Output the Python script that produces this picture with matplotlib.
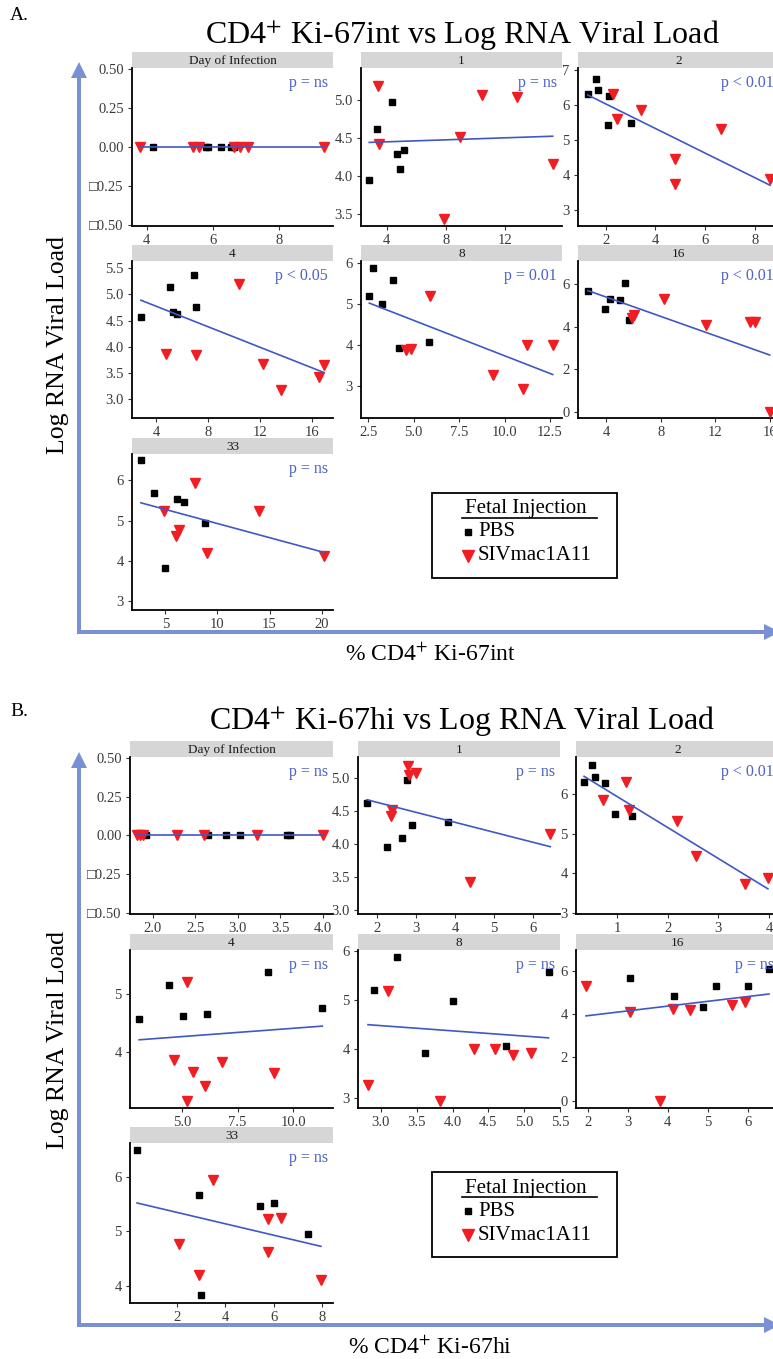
import numpy as np
import matplotlib
matplotlib.use("Agg")
import matplotlib.pyplot as plt
from matplotlib.patches import FancyArrow, Rectangle

plt.rcParams['font.family'] = ['Liberation Serif', 'DejaVu Serif']
plt.rcParams['mathtext.fontset'] = 'stix'

# viral load (log RNA) per day, PBS and SIVmac1A11 animals
VL_PBS_D0 = [0, 0, 0, 0, 0, 0]
VL_SIV_D0 = [0, 0, 0, 0, 0, 0, 0]
VL_PBS_D1 = [3.95, 4.62, 4.97, 4.29, 4.34, 4.09]
VL_SIV_D1 = [5.18, 4.42, 4.51, 5.07, 5.04, 4.15, 3.43]
VL_PBS_D2 = [6.31, 6.74, 6.42, 6.27, 5.44, 5.50]
VL_SIV_D2 = [6.31, 5.60, 5.86, 4.45, 3.73, 5.31, 3.89]
VL_PBS_D4 = [4.57, 5.15, 4.66, 4.63, 5.37, 4.76]
VL_SIV_D4 = [3.87, 3.84, 5.21, 3.67, 3.17, 3.43, 3.65]
VL_PBS_D8 = [5.20, 5.88, 4.99, 5.58, 3.92, 4.07]
VL_SIV_D8 = [3.88, 3.91, 5.18, 3.27, 2.93, 3.99, 3.99]
VL_PBS_D16 = [5.67, 4.83, 5.31, 5.27, 6.06, 4.31]
VL_SIV_D16 = [4.40, 4.55, 5.31, 4.08, 4.22, 4.20, 0.0]
VL_PBS_D33 = [6.50, 5.68, 5.53, 5.46, 4.95, 3.82]
VL_SIV_D33 = [5.23, 4.62, 4.77, 5.94, 4.19, 5.25, 4.11]

# % CD4+ Ki-67int
INT_PBS_D0 = [4.18, 5.79, 5.85, 6.26, 6.56, 6.63]
INT_SIV_D0 = [3.80, 5.40, 5.59, 6.64, 6.83, 7.07, 9.36]
INT_PBS_D1 = [2.82, 3.36, 4.34, 4.68, 5.17, 4.92]
INT_SIV_D1 = [3.43, 3.48, 8.95, 10.46, 12.78, 15.22, 7.89]
INT_PBS_D2 = [1.28, 1.61, 1.70, 2.12, 2.10, 3.02]
INT_SIV_D2 = [2.28, 2.44, 3.41, 4.78, 4.78, 6.64, 8.60]
INT_PBS_D4 = [2.82, 5.03, 5.29, 5.60, 6.88, 7.08]
INT_SIV_D4 = [4.77, 7.06, 10.40, 12.22, 13.66, 16.54, 16.93]
INT_PBS_D8 = [2.56, 2.74, 3.27, 3.84, 4.21, 5.86]
INT_SIV_D8 = [4.57, 4.83, 5.90, 9.38, 11.03, 11.25, 12.65]
INT_PBS_D16 = [2.69, 3.95, 4.31, 5.04, 5.40, 5.72]
INT_SIV_D16 = [5.89, 6.06, 8.24, 11.29, 14.52, 14.88, 15.97]
INT_PBS_D33 = [2.67, 3.88, 6.12, 6.79, 8.80, 5.00]
INT_SIV_D33 = [4.84, 5.99, 6.27, 7.87, 8.99, 14.00, 20.20]

# % CD4+ Ki-67hi
HI_PBS_D0 = [1.92, 2.65, 2.86, 3.02, 3.58, 3.61]
HI_SIV_D0 = [1.81, 1.85, 1.88, 2.28, 2.60, 3.22, 4.00]
HI_PBS_D1 = [2.26, 1.74, 2.76, 2.89, 3.83, 2.63]
HI_SIV_D1 = [2.80, 2.35, 2.39, 3.00, 2.82, 6.45, 4.40]
HI_PBS_D2 = [0.35, 0.51, 0.57, 0.76, 1.30, 0.97]
HI_SIV_D2 = [1.18, 1.24, 0.73, 2.56, 3.52, 2.19, 3.98]
HI_PBS_D4 = [3.09, 4.44, 6.15, 5.07, 8.88, 11.30]
HI_SIV_D4 = [4.67, 6.82, 5.22, 5.49, 5.22, 6.04, 9.15]
HI_PBS_D8 = [2.90, 3.22, 4.01, 5.34, 3.61, 4.75]
HI_SIV_D8 = [4.84, 5.10, 3.10, 2.82, 3.83, 4.30, 4.59]
HI_PBS_D16 = [3.06, 4.16, 5.20, 6.00, 6.53, 4.89]
HI_SIV_D16 = [5.60, 5.93, 1.96, 3.06, 4.13, 4.56, 3.80]
HI_PBS_D33 = [0.35, 2.90, 6.00, 5.43, 7.41, 3.00]
HI_SIV_D33 = [5.76, 5.76, 2.10, 3.50, 2.90, 6.30, 7.95]

DAYS = ["Day of Infection", "1", "2", "4", "8", "16", "33"]
P_INT = ["p = ns", "p = ns", "p < 0.01", "p < 0.05", "p = 0.01", "p < 0.01", "p = ns"]
P_HI = ["p = ns", "p = ns", "p < 0.01", "p = ns", "p = ns", "p = ns", "p = ns"]

VL_PBS = [VL_PBS_D0, VL_PBS_D1, VL_PBS_D2, VL_PBS_D4, VL_PBS_D8, VL_PBS_D16, VL_PBS_D33]
VL_SIV = [VL_SIV_D0, VL_SIV_D1, VL_SIV_D2, VL_SIV_D4, VL_SIV_D8, VL_SIV_D16, VL_SIV_D33]
INT_PBS = [INT_PBS_D0, INT_PBS_D1, INT_PBS_D2, INT_PBS_D4, INT_PBS_D8, INT_PBS_D16, INT_PBS_D33]
INT_SIV = [INT_SIV_D0, INT_SIV_D1, INT_SIV_D2, INT_SIV_D4, INT_SIV_D8, INT_SIV_D16, INT_SIV_D33]
HI_PBS = [HI_PBS_D0, HI_PBS_D1, HI_PBS_D2, HI_PBS_D4, HI_PBS_D8, HI_PBS_D16, HI_PBS_D33]
HI_SIV = [HI_SIV_D0, HI_SIV_D1, HI_SIV_D2, HI_SIV_D4, HI_SIV_D8, HI_SIV_D16, HI_SIV_D33]

# axis scales of each facet (free scales)
INT_XLIM = [(3.56, 9.63), (2.26, 15.85), (0.89, 8.96), (2.13, 17.64), (2.10, 13.16), (1.96, 16.65), (1.81, 21.08)]
INT_XTICKS = [[4, 6, 8], [4, 8, 12], [2, 4, 6, 8], [4, 8, 12, 16], [2.5, 5, 7.5, 10, 12.5], [4, 8, 12, 16], [5, 10, 15, 20]]
INT_YLIM = [(-0.505, 0.505), (3.34, 5.42), (2.54, 7.06), (2.64, 5.64), (2.22, 6.04), (-0.30, 7.08), (2.77, 6.66)]
INT_YTICKS = [[-0.5, -0.25, 0, 0.25, 0.5], [3.5, 4, 4.5, 5], [3, 4, 5, 6, 7], [3, 3.5, 4, 4.5, 5, 5.5], [3, 4, 5, 6], [0, 2, 4, 6], [3, 4, 5, 6]]
HI_XLIM = [(1.73, 4.12), (1.51, 6.70), (0.19, 4.20), (2.68, 11.78), (2.68, 5.50), (1.71, 6.78), (0.06, 8.45)]
HI_XTICKS = [[2, 2.5, 3, 3.5, 4], [2, 3, 4, 5, 6], [1, 2, 3, 4], [5, 7.5, 10], [3, 3.5, 4, 4.5, 5, 5.5], [2, 3, 4, 5, 6], [2, 4, 6, 8]]
HI_YLIM = [(-0.505, 0.505), (2.94, 5.32), (2.98, 6.93), (3.05, 5.75), (2.79, 6.03), (-0.34, 6.95), (3.68, 6.63)]
HI_YTICKS = [[-0.5, -0.25, 0, 0.25, 0.5], [3, 3.5, 4, 4.5, 5], [3, 4, 5, 6], [4, 5], [3, 4, 5, 6], [0, 2, 4, 6], [4, 5, 6]]

W, H = 773, 1359
RED = '#f01e23'
BLUE = '#3f58c4'
PTXT = '#4b62c6'
ARROW = '#7a90d4'

A_COLS = [(132, 333), (361, 562), (578, 779)]
A_ROWS = [(68, 226), (261, 418), (454, 610)]
B_COLS = [(130, 333), (358, 560), (576, 779)]
B_ROWS = [(757, 914), (950, 1108), (1143, 1303)]
STRIP = 16

fig = plt.figure(figsize=(W / 100, H / 100), dpi=100)


def frame(l, t, r, b):
    return [l / W, 1 - b / H, (r - l) / W, (b - t) / H]


def fmt(ticks):
    dec = 0
    for t in ticks:
        s = f"{t:g}"
        if "." in s:
            dec = max(dec, len(s.split(".")[1]))
    return [f"{t:.{dec}f}".replace("-", "\u25a1") for t in ticks]


def facet(l, t, r, b, title, px, py, sx, sy, xlim, xt, ylim, yt, ptxt):
    st = fig.add_axes(frame(l, t - STRIP, r, t))
    st.set_facecolor('#d6d6d6')
    st.set_xticks([])
    st.set_yticks([])
    for s in st.spines.values():
        s.set_visible(False)
    st.text(0.5, 0.45, title, ha='center', va='center', fontsize=9.5,
            color='#1a1a1a', transform=st.transAxes)

    ax = fig.add_axes(frame(l, t, r, b))
    ax.plot(px, py, 's', color='black', ms=5, ls='none', zorder=3, clip_on=False)
    ax.plot(sx, sy, 'v', color=RED, ms=7.5, ls='none', zorder=3, clip_on=False)
    xs = np.array(px + sx, dtype=float)
    ys = np.array(py + sy, dtype=float)
    k, c = np.polyfit(xs, ys, 1)
    xx = np.array([xs.min(), xs.max()])
    ax.plot(xx, k * xx + c, color=BLUE, lw=1.2, zorder=4)
    ax.set_xlim(xlim)
    ax.set_ylim(ylim)
    ax.set_xticks(xt)
    ax.set_xticklabels(fmt(xt))
    ax.set_yticks(yt)
    ax.set_yticklabels(fmt(yt))
    for side in ['top', 'right']:
        ax.spines[side].set_visible(False)
    for side in ['left', 'bottom']:
        ax.spines[side].set_linewidth(1.3)
        ax.spines[side].set_color('black')
    ax.tick_params(length=3, width=0.8, color='#333333', labelsize=10.5,
                   labelcolor='#3a3a3a', pad=3)
    ax.text(1 - 5 / (r - l), 1 - 15 / (b - t), ptxt, transform=ax.transAxes,
            ha='right', va='center', fontsize=11.5, color=PTXT)


def block(cols, rows, xs_pbs, xs_siv, xlim, xticks, ylim, yticks, ptxts):
    for i in range(7):
        l, r = cols[i % 3]
        t, b = rows[i // 3]
        facet(l, t, r, b, DAYS[i], xs_pbs[i], VL_PBS[i], xs_siv[i], VL_SIV[i],
              xlim[i], xticks[i], ylim[i], yticks[i], ptxts[i])


block(A_COLS, A_ROWS, INT_PBS, INT_SIV, INT_XLIM, INT_XTICKS, INT_YLIM, INT_YTICKS, P_INT)
block(B_COLS, B_ROWS, HI_PBS, HI_SIV, HI_XLIM, HI_XTICKS, HI_YLIM, HI_YTICKS, P_HI)

# overlay in pixel coordinates for labels, arrows and legends
ov = fig.add_axes([0, 0, 1, 1])
ov.set_xlim(0, W)
ov.set_ylim(H, 0)
ov.axis('off')


def half(letter_y, title_y, letter, title, xlab, yc, arrow_top, arrow_y, ly):
    ov.text(10, letter_y, letter, fontsize=14, ha='left', va='center')
    ov.text(462, title_y, title, fontsize=23, ha='center', va='center')
    ov.text(58, yc, "Log RNA Viral Load", fontsize=18.5, rotation=90,
            ha='center', va='center')
    ov.text(430, arrow_y + 23, xlab, fontsize=17, ha='center', va='center')
    ov.add_patch(FancyArrow(79, arrow_y + 2, 0, arrow_top - arrow_y - 2, width=4,
                            head_width=16, head_length=16, length_includes_head=True,
                            color=ARROW, lw=0))
    ov.add_patch(FancyArrow(77, arrow_y, 703, 0, width=4, head_width=16,
                            head_length=16, length_includes_head=True,
                            color=ARROW, lw=0))
    # legend
    ov.add_patch(Rectangle((432, ly), 185, 85, fill=False, ec='black', lw=1.3))
    ov.text(526, ly + 16, "Fetal Injection", fontsize=15, ha='center', va='center')
    ov.plot([462, 597], [ly + 25, ly + 25], color='black', lw=1.2)
    ov.plot([468], [ly + 39], 's', color='black', ms=5)
    ov.text(478, ly + 39, "PBS", fontsize=15, ha='left', va='center')
    ov.plot([468], [ly + 63], 'v', color=RED, ms=8)
    ov.text(478, ly + 63, "SIVmac1A11", fontsize=15, ha='left', va='center')


half(16, 36, "A.", r"CD4$^{+}$ Ki-67int vs Log RNA Viral Load", r"% CD4$^{+}$ Ki-67int",
     345, 62, 632, 493)
half(711, 722, "B.", r"CD4$^{+}$ Ki-67hi vs Log RNA Viral Load", r"% CD4$^{+}$ Ki-67hi",
     1040, 752, 1325, 1172)

fig.savefig("out.png", dpi=100)
